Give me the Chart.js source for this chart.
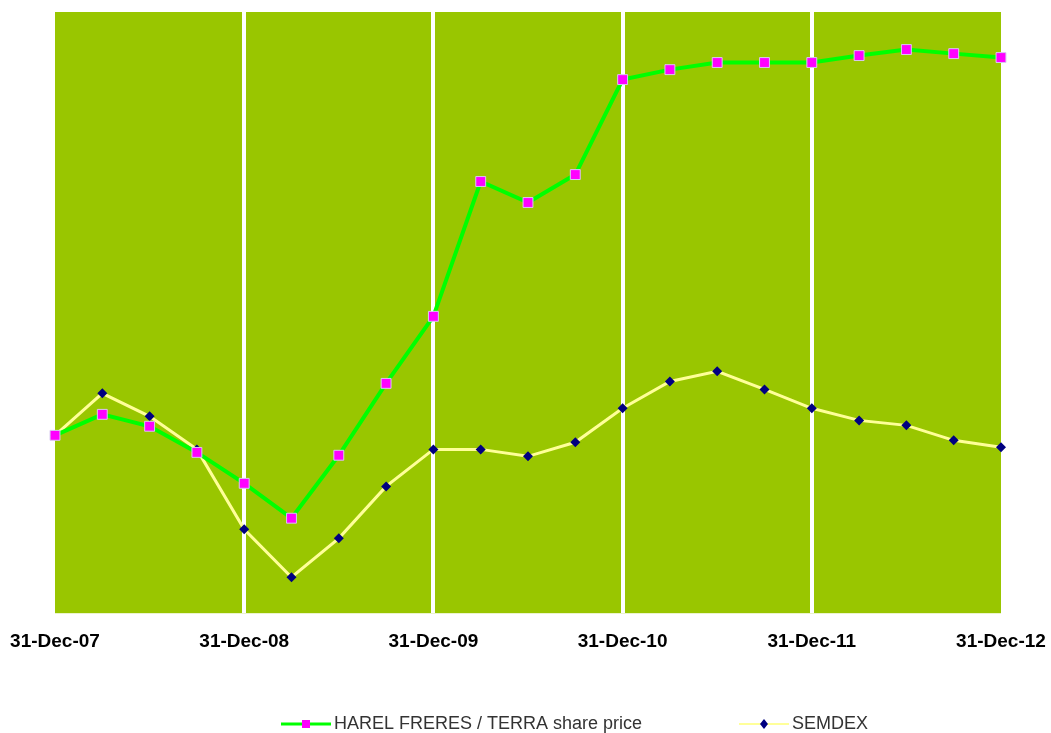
<!DOCTYPE html>
<html>
<head>
<meta charset="utf-8">
<script src="https://cdn.jsdelivr.net/npm/chart.js@4/dist/chart.umd.min.js"></script>
<style>
  html, body { margin: 0; padding: 0; background: #fff; }
  #wrap { width: 1051px; height: 733px; }
</style>
</head>
<body>
<div id="wrap"><canvas id="chart" width="1051" height="733"></canvas></div>
<script>
// quarter ends, Dec-07 .. Dec-12
const quarters = [
  '31-Dec-07', '31-Mar-08', '30-Jun-08', '30-Sep-08',
  '31-Dec-08', '31-Mar-09', '30-Jun-09', '30-Sep-09',
  '31-Dec-09', '31-Mar-10', '30-Jun-10', '30-Sep-10',
  '31-Dec-10', '31-Mar-11', '30-Jun-11', '30-Sep-11',
  '31-Dec-11', '31-Mar-12', '30-Jun-12', '30-Sep-12',
  '31-Dec-12'
];

// rebased to 100 at 31-Dec-07
const harelTerra = [
  100, 111.8, 105.1, 90.4, 73.0, 53.4, 88.8, 129.2, 166.9, 242.7,
  230.9, 246.6, 300.0, 305.6, 309.6, 309.6, 309.6, 313.5, 316.9, 314.6,
  312.4
];
const semdex = [
  100, 123.6, 110.7, 92.1, 47.2, 20.2, 42.1, 71.3, 92.1, 92.1,
  88.2, 96.1, 115.2, 130.3, 136.0, 125.8, 115.2, 108.4, 105.6, 97.2,
  93.3
];

const seriesNames = ['HAREL FRERES / TERRA share price', 'SEMDEX'];

const plotBg = {
  id: 'plotBg',
  beforeDraw(chart) {
    const { ctx, chartArea: a } = chart;
    ctx.save();
    ctx.fillStyle = '#99c600';
    ctx.fillRect(a.left, a.top, a.right - a.left, a.bottom - a.top);
    ctx.restore();
  }
};

// legend with line + marker, like the spreadsheet one
const lineLegend = {
  id: 'lineLegend',
  afterDraw(chart) {
    const ctx = chart.ctx;
    const y = 724;
    const items = [{ x: 281, i: 0, lw: 3 }, { x: 739, i: 1, lw: 2 }];
    ctx.save();
    ctx.font = '18px "Liberation Sans", Arial, sans-serif';
    ctx.textBaseline = 'middle';
    items.forEach(it => {
      const ds = chart.data.datasets[it.i];
      ctx.strokeStyle = ds.borderColor;
      ctx.lineWidth = it.lw;
      ctx.beginPath();
      ctx.moveTo(it.x, y);
      ctx.lineTo(it.x + 50, y);
      ctx.stroke();
      const mx = it.x + 25;
      ctx.fillStyle = ds.pointBackgroundColor;
      if (it.i === 0) {
        ctx.fillRect(mx - 4, y - 4, 8, 8);
      } else {
        ctx.beginPath();
        ctx.moveTo(mx, y - 5); ctx.lineTo(mx + 4, y);
        ctx.lineTo(mx, y + 5); ctx.lineTo(mx - 4, y);
        ctx.closePath(); ctx.fill();
      }
      ctx.fillStyle = '#333';
      ctx.fillText(ds.label, it.x + 53, y);
    });
    ctx.restore();
  }
};

new Chart(document.getElementById('chart'), {
  type: 'line',
  data: {
    labels: quarters,
    datasets: [
      {
        label: seriesNames[0],
        data: harelTerra,
        borderColor: '#00ff00',
        borderWidth: 4,
        pointStyle: 'rect',
        pointRadius: 7,
        pointBackgroundColor: '#ff00ff',
        pointBorderColor: '#d8c8f0',
        pointBorderWidth: 1,
        tension: 0
      },
      {
        label: seriesNames[1],
        data: semdex,
        borderColor: '#ffff99',
        borderWidth: 3,
        pointStyle: 'rectRot',
        pointRadius: 5,
        pointBackgroundColor: '#000080',
        pointBorderColor: '#000080',
        pointBorderWidth: 0,
        tension: 0
      }
    ]
  },
  options: {
    responsive: false,
    animation: false,
    layout: { padding: { top: 12, left: 55, right: 50, bottom: 63 } },
    plugins: {
      legend: { display: false },
      tooltip: { enabled: false }
    },
    scales: {
      x: {
        offset: false,
        border: { display: false },
        grid: {
          drawTicks: false,
          lineWidth: 4,
          color: c => (c.index % 4 === 0 && c.index !== 0 && c.index !== quarters.length - 1) ? '#ffffff' : 'rgba(0,0,0,0)'
        },
        ticks: {
          autoSkip: false,
          maxRotation: 0,
          padding: 17,
          color: '#000',
          font: { family: '"Liberation Sans", Arial, sans-serif', size: 19, weight: 'bold' },
          callback: (v, i) => i % 4 === 0 ? quarters[i] : ''
        },
        // let layout padding decide the plot edges, labels may overhang
        afterFit: s => { s.paddingLeft = 0; s.paddingRight = 0; }
      },
      y: {
        display: false,
        min: 0,
        max: 338
      }
    }
  },
  plugins: [plotBg, lineLegend]
});
</script>
</body>
</html>
